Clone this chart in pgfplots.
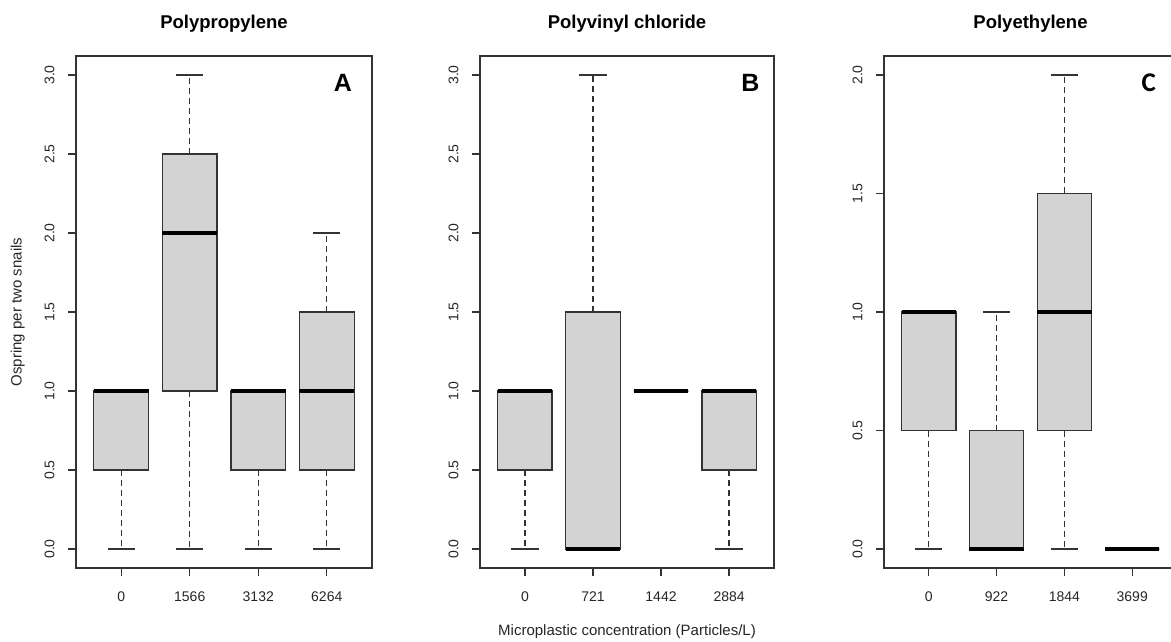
\documentclass[border=0pt]{standalone}
\usepackage{fontspec}
\setmainfont{Liberation Sans}
\newfontfamily\calibri{Carlito}
\usepackage{pgfplots}
\pgfplotsset{compat=1.18}
\usepgfplotslibrary{statistics}

\definecolor{boxgray}{HTML}{D3D3D3}
\definecolor{framecol}{HTML}{333333}

\tikzset{bigletter/.style={font=\bfseries\fontsize{25}{26}\selectfont, anchor=center}}

\pgfplotsset{
  rpanel/.style={
    scale only axis, anchor=south west,
    height=512pt,
    xmin=0.34, xmax=4.66,
    xtick={1,2,3,4},
    tick pos=left, tick align=outside,
    major tick length=8pt,
    axis line style={framecol, line width=1.3pt},
    every tick/.style={framecol, line width=1.3pt},
    /pgf/number format/fixed,
    /pgf/number format/fixed zerofill,
    /pgf/number format/precision=1,
    /pgf/number format/assume math mode=true,
    ticklabel style={font=\fontsize{14}{16}\selectfont, text=black!85},
    xticklabel style={yshift=-12pt},
    yticklabel style={xshift=-10pt, rotate=90, anchor=south},
    title style={font=\bfseries\fontsize{18.5}{20}\selectfont, at={(0.5,1)}, anchor=center, yshift=26pt},
    boxplot/draw direction=y,
    boxplot/box extend=0.8,
    boxplot/whisker extend=0.4,
    boxplot/every box/.style={draw=framecol, fill=boxgray, line width=1.3pt},
    boxplot/every median/.style={draw=black, line width=3.8pt},
    boxplot/draw/lower whisker/.code={%
      \draw[framecol, line width=1.3pt, dash pattern=on 6pt off 4pt]
        (boxplot box cs:\pgfplotsboxplotvalue{lower quartile},0.5) --
        (boxplot box cs:\pgfplotsboxplotvalue{lower whisker},0.5);
      \draw[framecol, line width=1.3pt]
        (boxplot whisker cs:\pgfplotsboxplotvalue{lower whisker},0) --
        (boxplot whisker cs:\pgfplotsboxplotvalue{lower whisker},1);
    },
    boxplot/draw/upper whisker/.code={%
      \draw[framecol, line width=1.3pt, dash pattern=on 6pt off 4pt]
        (boxplot box cs:\pgfplotsboxplotvalue{upper quartile},0.5) --
        (boxplot box cs:\pgfplotsboxplotvalue{upper whisker},0.5);
      \draw[framecol, line width=1.3pt]
        (boxplot whisker cs:\pgfplotsboxplotvalue{upper whisker},0) --
        (boxplot whisker cs:\pgfplotsboxplotvalue{upper whisker},1);
    },
  },
}

\begin{document}
\begin{tikzpicture}

% Polypropylene
\begin{axis}[rpanel,
  at={(76pt,73pt)}, width=296pt,
  ymin=-0.12, ymax=3.12,
  ytick={0,0.5,1,1.5,2,2.5,3},
  xticklabels={0,1566,3132,6264},
  title={Polypropylene},
  ylabel={Ospring per two snails},
  ylabel style={font=\fontsize{15}{17}\selectfont, text=black!85, at={(axis description cs:-0.197,0.5)}, anchor=center},
]
\addplot[boxplot prepared={draw position=1, lower whisker=0, lower quartile=0.5, median=1, upper quartile=1, upper whisker=1}] coordinates {};
\addplot[boxplot prepared={draw position=2, lower whisker=0, lower quartile=1, median=2, upper quartile=2.5, upper whisker=3}] coordinates {};
\addplot[boxplot prepared={draw position=3, lower whisker=0, lower quartile=0.5, median=1, upper quartile=1, upper whisker=1}] coordinates {};
\addplot[boxplot prepared={draw position=4, lower whisker=0, lower quartile=0.5, median=1, upper quartile=1.5, upper whisker=2}] coordinates {};
\node[bigletter] at (rel axis cs:0.902,0.947) {A};
\end{axis}

% Polyvinyl chloride
\begin{axis}[rpanel,
  at={(480pt,73pt)}, width=294pt,
  ymin=-0.12, ymax=3.12,
  ytick={0,0.5,1,1.5,2,2.5,3},
  xticklabels={0,721,1442,2884},
  title={Polyvinyl chloride},
  xlabel={Microplastic concentration (Particles/L)},
  xlabel style={font=\fontsize{15}{17}\selectfont, text=black!85, at={(axis description cs:0.5,0)}, anchor=center, yshift=-64pt},
]
\addplot[boxplot prepared={draw position=1, lower whisker=0, lower quartile=0.5, median=1, upper quartile=1, upper whisker=1}] coordinates {};
\addplot[boxplot prepared={draw position=2, lower whisker=0, lower quartile=0, median=0, upper quartile=1.5, upper whisker=3}] coordinates {};
\addplot[boxplot prepared={draw position=3, lower whisker=1, lower quartile=1, median=1, upper quartile=1, upper whisker=1}] coordinates {};
\addplot[boxplot prepared={draw position=4, lower whisker=0, lower quartile=0.5, median=1, upper quartile=1, upper whisker=1}] coordinates {};
\node[bigletter] at (rel axis cs:0.92,0.947) {B};
\end{axis}

% Polyethylene
\begin{axis}[rpanel,
  at={(884pt,73pt)}, width=293pt,
  ymin=-0.08, ymax=2.08,
  ytick={0,0.5,1,1.5,2},
  xticklabels={0,922,1844,3699},
  title={Polyethylene},
]
\addplot[boxplot prepared={draw position=1, lower whisker=0, lower quartile=0.5, median=1, upper quartile=1, upper whisker=1}] coordinates {};
\addplot[boxplot prepared={draw position=2, lower whisker=0, lower quartile=0, median=0, upper quartile=0.5, upper whisker=1}] coordinates {};
\addplot[boxplot prepared={draw position=3, lower whisker=0, lower quartile=0.5, median=1, upper quartile=1.5, upper whisker=2}] coordinates {};
\addplot[boxplot prepared={draw position=4, lower whisker=0, lower quartile=0, median=0, upper quartile=0, upper whisker=0}] coordinates {};
\node[font=\calibri\bfseries\fontsize{27}{28}\selectfont, anchor=center] at (rel axis cs:0.904,0.947) {C};
\end{axis}

\pgfresetboundingbox
\useasboundingbox (0pt,0pt) rectangle (1171pt,641pt);
\end{tikzpicture}
\end{document}
